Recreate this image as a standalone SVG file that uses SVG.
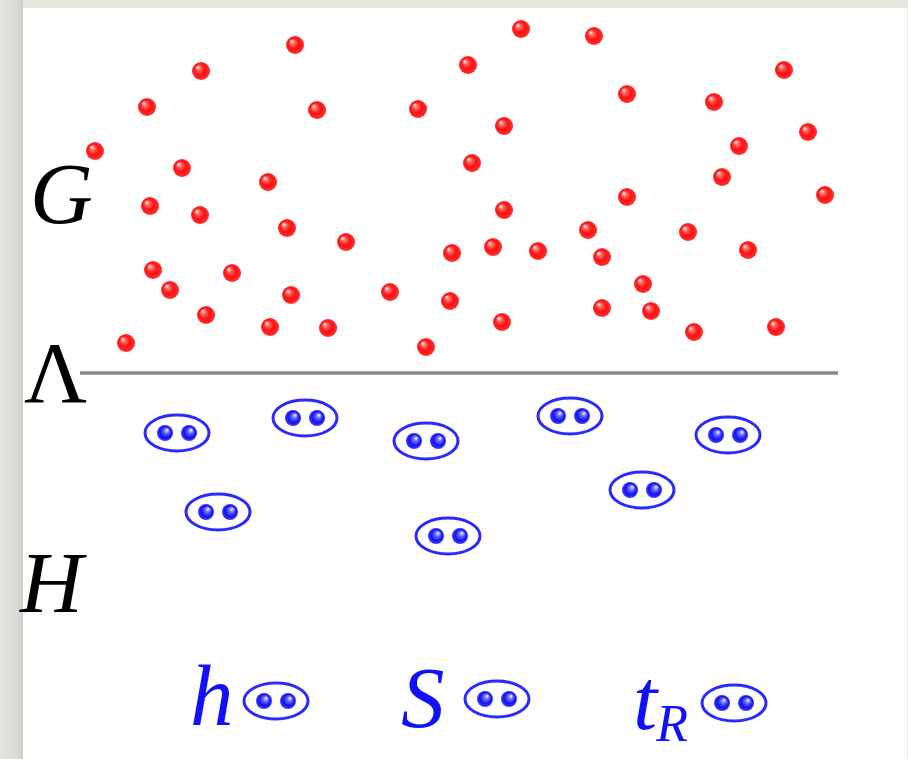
<svg xmlns="http://www.w3.org/2000/svg" xmlns:xlink="http://www.w3.org/1999/xlink" width="908" height="759" viewBox="0 0 908 759">
<defs>
<linearGradient id="bgL" x1="0" y1="0" x2="1" y2="0">
<stop offset="0" stop-color="#e6e4de"/>
<stop offset="0.7" stop-color="#dcdad4"/>
<stop offset="1" stop-color="#cfcdc7"/>
</linearGradient>
<radialGradient id="redG" cx="0.5" cy="0.5" r="0.5" fx="0.3" fy="0.28">
<stop offset="0" stop-color="#ffffff"/>
<stop offset="0.25" stop-color="#ff6a6a"/>
<stop offset="0.6" stop-color="#ff1010"/>
<stop offset="1" stop-color="#ff3030"/>
</radialGradient>
<radialGradient id="blueG" cx="0.5" cy="0.5" r="0.5" fx="0.65" fy="0.3">
<stop offset="0" stop-color="#ffffff"/>
<stop offset="0.3" stop-color="#7070ff"/>
<stop offset="0.7" stop-color="#1010f0"/>
<stop offset="1" stop-color="#4040ff"/>
</radialGradient>
<circle id="red" r="9" fill="url(#redG)"/>
<g id="pair">
<ellipse cx="0" cy="0" rx="32" ry="18" fill="#ffffff" stroke="#2a2aff" stroke-width="3"/>
<circle cx="-12" cy="0" r="8" fill="url(#blueG)"/>
<circle cx="12" cy="0" r="8" fill="url(#blueG)"/>
</g>
</defs>
<style>
.lbl{font-family:"Liberation Serif","DejaVu Serif",serif;font-size:87px;fill:#000000}
.it{font-style:italic}
.blue{fill:#1010ff}
</style>
<rect x="0" y="0" width="908" height="759" fill="#e8e6e0"/>
<rect x="0" y="0" width="23" height="759" fill="url(#bgL)"/>
<rect x="23" y="8" width="884" height="751" fill="#ffffff"/>

<g id="labels">
<text class="lbl it" x="30" y="223">G</text>
<text class="lbl" x="24" y="402">Λ</text>
<text class="lbl it" x="20" y="612">H</text>
</g>

<g id="connectors">
<line x1="80" y1="373" x2="838" y2="373" stroke="#8a8a8a" stroke-width="3.5"/>
</g>

<g id="gluons">
<use xlink:href="#red" x="95" y="151"/>
<use xlink:href="#red" x="147" y="107"/>
<use xlink:href="#red" x="201" y="71"/>
<use xlink:href="#red" x="295" y="45"/>
<use xlink:href="#red" x="317" y="110"/>
<use xlink:href="#red" x="182" y="168"/>
<use xlink:href="#red" x="150" y="206"/>
<use xlink:href="#red" x="200" y="215"/>
<use xlink:href="#red" x="268" y="182"/>
<use xlink:href="#red" x="287" y="228"/>
<use xlink:href="#red" x="346" y="242"/>
<use xlink:href="#red" x="153" y="270"/>
<use xlink:href="#red" x="170" y="290"/>
<use xlink:href="#red" x="232" y="273"/>
<use xlink:href="#red" x="206" y="315"/>
<use xlink:href="#red" x="291" y="295"/>
<use xlink:href="#red" x="270" y="327"/>
<use xlink:href="#red" x="328" y="328"/>
<use xlink:href="#red" x="126" y="343"/>
<use xlink:href="#red" x="390" y="292"/>
<use xlink:href="#red" x="418" y="109"/>
<use xlink:href="#red" x="468" y="65"/>
<use xlink:href="#red" x="521" y="29"/>
<use xlink:href="#red" x="594" y="36"/>
<use xlink:href="#red" x="504" y="126"/>
<use xlink:href="#red" x="472" y="163"/>
<use xlink:href="#red" x="504" y="210"/>
<use xlink:href="#red" x="452" y="253"/>
<use xlink:href="#red" x="493" y="247"/>
<use xlink:href="#red" x="538" y="251"/>
<use xlink:href="#red" x="450" y="301"/>
<use xlink:href="#red" x="426" y="347"/>
<use xlink:href="#red" x="502" y="322"/>
<use xlink:href="#red" x="588" y="230"/>
<use xlink:href="#red" x="602" y="257"/>
<use xlink:href="#red" x="627" y="197"/>
<use xlink:href="#red" x="627" y="94"/>
<use xlink:href="#red" x="714" y="102"/>
<use xlink:href="#red" x="739" y="146"/>
<use xlink:href="#red" x="722" y="177"/>
<use xlink:href="#red" x="784" y="70"/>
<use xlink:href="#red" x="808" y="132"/>
<use xlink:href="#red" x="825" y="195"/>
<use xlink:href="#red" x="688" y="232"/>
<use xlink:href="#red" x="748" y="250"/>
<use xlink:href="#red" x="643" y="284"/>
<use xlink:href="#red" x="651" y="311"/>
<use xlink:href="#red" x="602" y="308"/>
<use xlink:href="#red" x="694" y="332"/>
<use xlink:href="#red" x="776" y="327"/>
</g>

<g id="pairs">
<g id="pair1"><use xlink:href="#pair" x="177" y="433"/></g>
<g id="pair2"><use xlink:href="#pair" x="305" y="418"/></g>
<g id="pair3"><use xlink:href="#pair" x="426" y="441"/></g>
<g id="pair4"><use xlink:href="#pair" x="570" y="416"/></g>
<g id="pair5"><use xlink:href="#pair" x="728" y="435"/></g>
<g id="pair6"><use xlink:href="#pair" x="218" y="512"/></g>
<g id="pair7"><use xlink:href="#pair" x="642" y="490"/></g>
<g id="pair8"><use xlink:href="#pair" x="448" y="536"/></g>
</g>

<g id="legend-h">
<text class="lbl it blue" x="190" y="725">h</text>
<use xlink:href="#pair" x="276" y="701"/>
</g>
<g id="legend-S">
<text class="lbl it blue" x="401" y="727">S</text>
<use xlink:href="#pair" x="497" y="699"/>
</g>
<g id="legend-tR">
<text class="lbl it blue" x="633" y="729">t<tspan font-size="52" dy="12" dx="-1">R</tspan></text>
<use xlink:href="#pair" x="734" y="703"/>
</g>
</svg>
